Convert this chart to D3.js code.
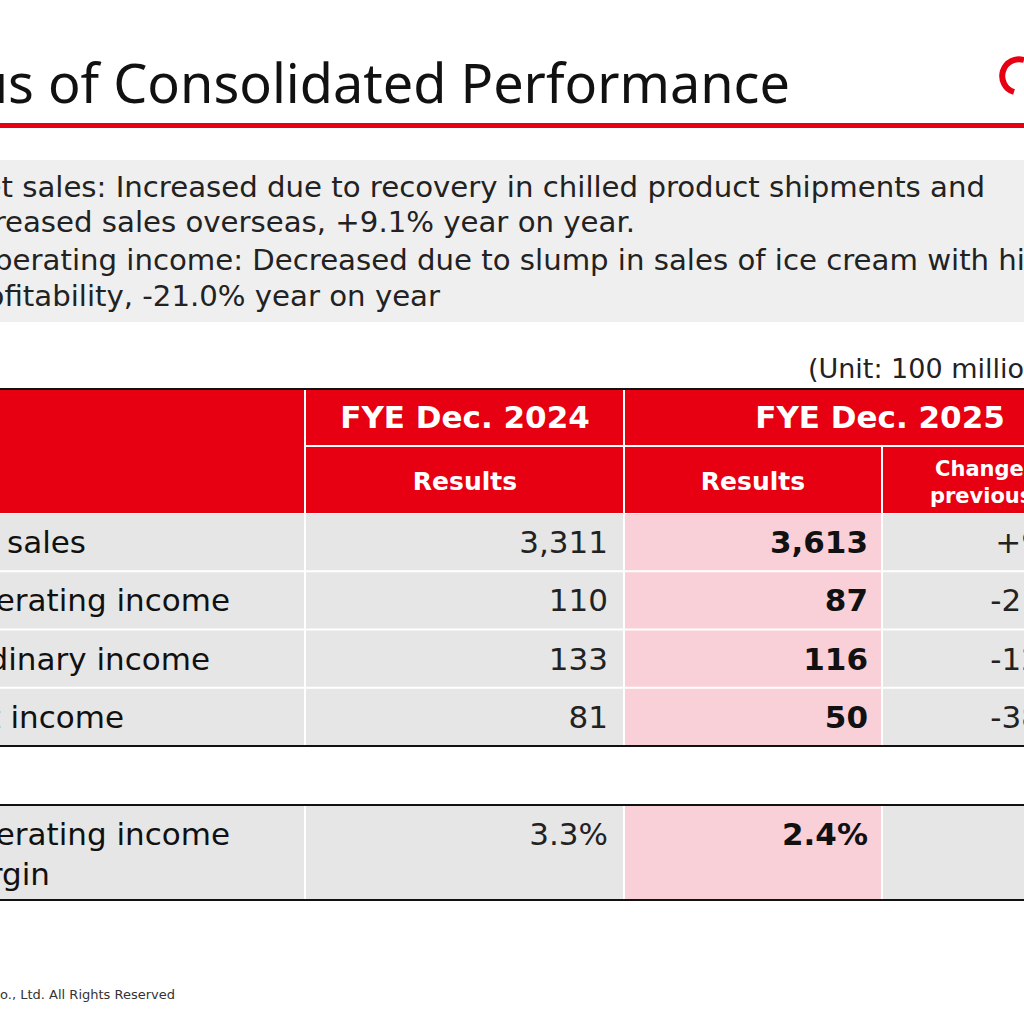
<!DOCTYPE html><html><head><meta charset="utf-8"><script src="https://cdn.jsdelivr.net/npm/d3@7"></script>
<style>body{margin:0;background:#fff}svg{display:block;font-family:"DejaVu Sans",Verdana,sans-serif}</style></head><body>
<script>
const items=["Net sales","Operating income","Ordinary income","Net income"];
const fy2024=[3311,110,133,81];
const fy2025=[3613,87,116,50];
const changeYoY=["+9.1%","-21.0%","-12.8%","-38.3%"];
const marginLabel=["Operating income","margin"];
const margin2024="3.3%", margin2025="2.4%";
const bullets=["・Net sales: Increased due to recovery in chilled product shipments and","increased sales overseas, +9.1% year on year.","・Operating income: Decreased due to slump in sales of ice cream with high","profitability, -21.0% year on year"];
const RED="#e60012",GREY="#e6e6e6",PINK="#f9d0d8";
const svg=d3.select("body").append("svg").attr("width",1024).attr("height",1024);
svg.append("text").attr("x",790).attr("y",103).attr("text-anchor","end").attr("font-family","'Noto Sans',sans-serif").attr("font-size",54).attr("fill","#111").text("Status of Consolidated Performance");
svg.append("rect").attr("x",0).attr("y",123).attr("width",1024).attr("height",5).attr("fill",RED);
svg.append("path").attr("d","M1024,60 A16,16 0 1 0 1014,92").attr("fill","none").attr("stroke",RED).attr("stroke-width",6);
svg.append("rect").attr("x",0).attr("y",160).attr("width",1024).attr("height",162).attr("fill","#efefef");
const bEnds=[985,635,1062,440];
bullets.forEach((t,i)=>svg.append("text").attr("x",bEnds[i]).attr("y",[197,232,270,306][i]).attr("text-anchor","end").attr("font-size",29.2).attr("fill","#222").text(t));
svg.append("text").attr("x",1110).attr("y",378).attr("text-anchor","end").attr("font-size",27).attr("fill","#222").text("(Unit: 100 million yen)");
const cols=[[0,305],[305,624],[624,882],[882,1140]];
const g=svg.append("g");
g.append("rect").attr("x",0).attr("y",389).attr("width",1024).attr("height",124).attr("fill",RED);
g.append("line").attr("x1",305).attr("x2",305).attr("y1",389).attr("y2",513).attr("stroke","#fff").attr("stroke-width",2);
g.append("line").attr("x1",624).attr("x2",624).attr("y1",389).attr("y2",513).attr("stroke","#fff").attr("stroke-width",2);
g.append("line").attr("x1",305).attr("x2",1024).attr("y1",446).attr("y2",446).attr("stroke","#fff").attr("stroke-width",2);
g.append("line").attr("x1",882).attr("x2",882).attr("y1",446).attr("y2",513).attr("stroke","#fff").attr("stroke-width",2);
const hdr=(x,y,s,t)=>g.append("text").attr("x",x).attr("y",y).attr("text-anchor","middle").attr("font-size",s).attr("font-weight","bold").attr("fill","#fff").text(t);
hdr(465,428,31,"FYE Dec. 2024");hdr(880,428,31,"FYE Dec. 2025");
hdr(465,490,25,"Results");hdr(753,490,25,"Results");
hdr(1011,476,21,"Change from");hdr(1011,503,21,"previous year");
const y=d3.scaleBand().domain(items).range([513,746]).paddingInner(0);
const fmt=d3.format(",");
const ends={"Net sales":86,"Operating income":230,"Ordinary income":210,"Net income":124};
items.forEach((it,i)=>{
  cols.forEach((c,j)=>g.append("rect").attr("x",c[0]+(j?1:0)).attr("y",y(it)+1).attr("width",c[1]-c[0]-(j?2:1)).attr("height",y.bandwidth()-2).attr("fill",j==2?PINK:GREY));
  const by=y(it)+y.bandwidth()/2+11;
  g.append("text").attr("x",ends[it]).attr("y",by).attr("text-anchor","end").attr("font-size",31).attr("fill","#111").text(it);
  g.append("text").attr("x",608).attr("y",by).attr("text-anchor","end").attr("font-size",31).attr("fill","#222").text(fmt(fy2024[i]));
  g.append("text").attr("x",868).attr("y",by).attr("text-anchor","end").attr("font-size",31).attr("font-weight","bold").attr("fill","#111").text(fmt(fy2025[i]));
  g.append("text").attr("x",1100).attr("y",by).attr("text-anchor","end").attr("font-size",31).attr("fill","#222").text(changeYoY[i]);
});
g.append("line").attr("x1",0).attr("x2",1024).attr("y1",389).attr("y2",389).attr("stroke","#111").attr("stroke-width",2);
g.append("line").attr("x1",0).attr("x2",1024).attr("y1",746).attr("y2",746).attr("stroke","#111").attr("stroke-width",2);
cols.forEach((c,j)=>g.append("rect").attr("x",c[0]+(j?1:0)).attr("y",806).attr("width",c[1]-c[0]-(j?2:1)).attr("height",93).attr("fill",j==2?PINK:GREY));
g.append("line").attr("x1",0).attr("x2",1024).attr("y1",805).attr("y2",805).attr("stroke","#111").attr("stroke-width",2);
g.append("line").attr("x1",0).attr("x2",1024).attr("y1",900).attr("y2",900).attr("stroke","#111").attr("stroke-width",2);
g.append("text").attr("x",230).attr("y",845).attr("text-anchor","end").attr("font-size",31).attr("fill","#111").text(marginLabel[0]);
g.append("text").attr("x",50).attr("y",885).attr("text-anchor","end").attr("font-size",31).attr("fill","#111").text(marginLabel[1]);
g.append("text").attr("x",608).attr("y",845).attr("text-anchor","end").attr("font-size",31).attr("fill","#222").text(margin2024);
g.append("text").attr("x",868).attr("y",845).attr("text-anchor","end").attr("font-size",31).attr("font-weight","bold").attr("fill","#111").text(margin2025);
svg.append("text").attr("x",175).attr("y",999).attr("text-anchor","end").attr("font-size",13).attr("fill","#333").text("© Co., Ltd. All Rights Reserved");
</script></body></html>
